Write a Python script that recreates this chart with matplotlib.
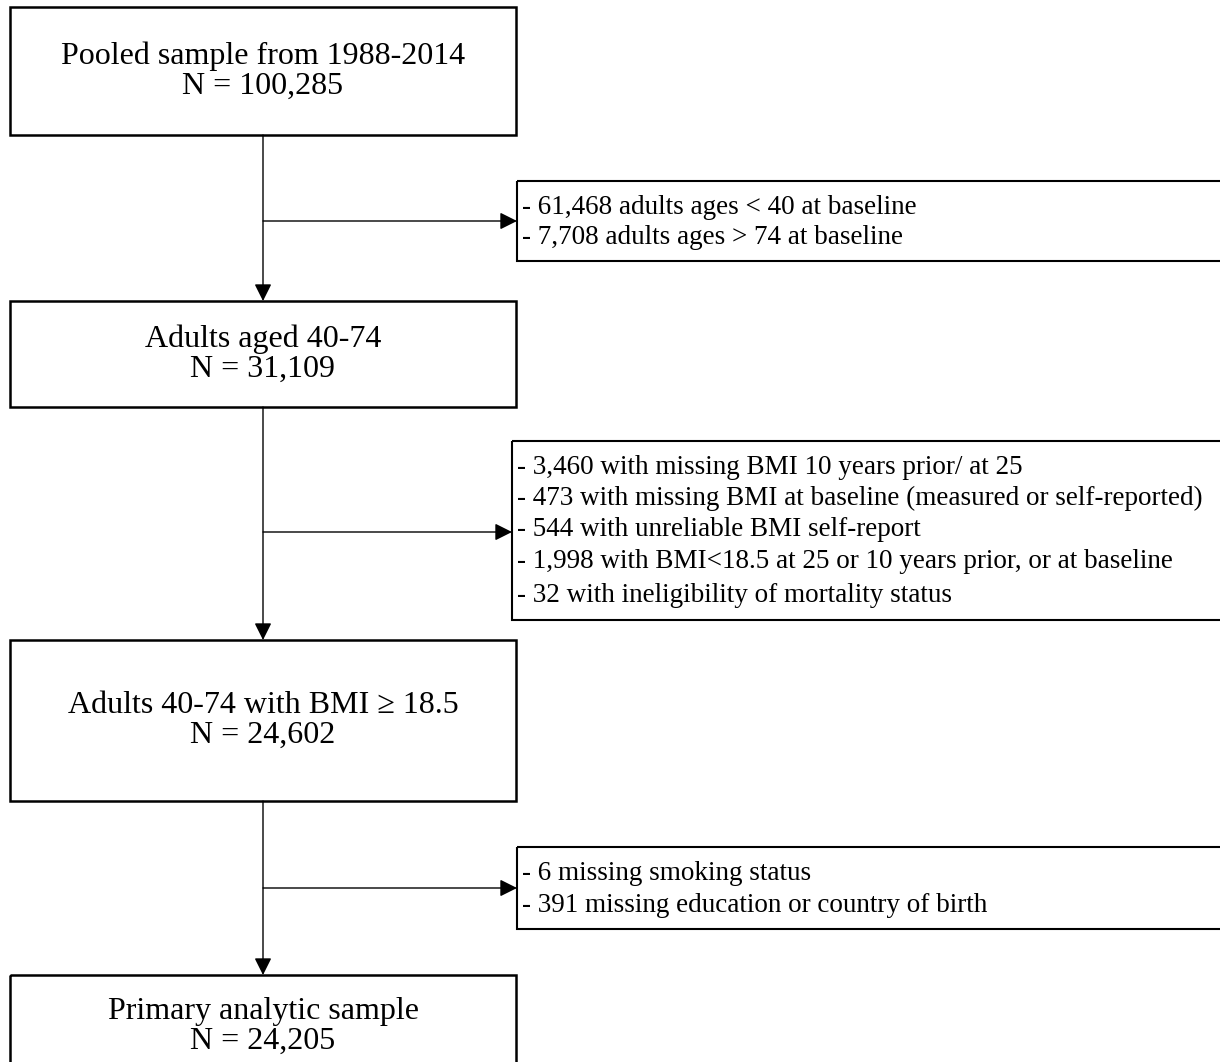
import matplotlib
matplotlib.use("Agg")
import matplotlib.pyplot as plt
from matplotlib.patches import Rectangle

# Textos do fluxograma
etapas = [
    ["Pooled sample from 1988-2014", "N = 100,285"],
    ["Adults aged 40-74", "N = 31,109"],
    ["Adults 40-74 with BMI \u2265 18.5", "N = 24,602"],
    ["Primary analytic sample", "N = 24,205"],
]
exclusoes = [
    ["- 61,468 adults ages < 40 at baseline",
     "- 7,708 adults ages > 74 at baseline"],
    ["- 3,460 with missing BMI 10 years prior/ at 25",
     "- 473 with missing BMI at baseline (measured or self-reported)",
     "- 544 with unreliable BMI self-report",
     "- 1,998 with BMI<18.5 at 25 or 10 years prior, or at baseline",
     "- 32 with ineligibility of mortality status"],
    ["- 6 missing smoking status",
     "- 391 missing education or country of birth"],
]

# layout em pixels (y para baixo)
caixas = [(10, 7, 135), (10, 301, 407), (10, 640, 801), (10, 975, 1100)]
caixas_lado = [(517, 181, 261), (512, 441, 620), (517, 847, 929)]
linhas_lado = [[208, 237], [467, 498, 530, 562, 596], [873, 905]]
X_CENTRO = 263
X_DIR = 516
Y_SETA = [221, 532, 888]

plt.rcParams['font.family'] = ['Liberation Serif', 'DejaVu Serif']

fig = plt.figure(figsize=(12.2, 10.62), dpi=100)
ax = fig.add_axes([0, 0, 1, 1])
ax.set_xlim(0, 1220)
ax.set_ylim(1062, 0)
ax.axis('off')

for (x0, y0, y1), textos in zip(caixas, etapas):
    ax.add_patch(Rectangle((x0, y0), X_DIR - x0, y1 - y0, fill=False,
                           edgecolor='black', linewidth=1.8))
    yc = (y0 + y1) / 2 if y1 < 1062 else 1026
    ax.text(X_CENTRO, yc - 15, textos[0], ha='center', va='center', fontsize=23)
    ax.text(X_CENTRO, yc + 15, textos[1], ha='center', va='center', fontsize=23)

for (x0, y0, y1), textos, ys in zip(caixas_lado, exclusoes, linhas_lado):
    ax.add_patch(Rectangle((x0, y0), 1230 - x0, y1 - y0, fill=False,
                           edgecolor='black', linewidth=1.5, clip_on=False))
    for t, y in zip(textos, ys):
        ax.text(x0 + 5, y, t, ha='left', va='center', fontsize=19.5)

seta = dict(arrowstyle='-|>', color='black', linewidth=1.0,
            mutation_scale=26, shrinkA=0, shrinkB=0)

for i in range(3):
    y_ini = caixas[i][2]
    y_fim = caixas[i + 1][1]
    ax.annotate('', xy=(X_CENTRO, y_fim), xytext=(X_CENTRO, y_ini), arrowprops=seta)
    ax.annotate('', xy=(caixas_lado[i][0], Y_SETA[i]), xytext=(X_CENTRO, Y_SETA[i]),
                arrowprops=seta)

fig.savefig('out.png', dpi=100)
